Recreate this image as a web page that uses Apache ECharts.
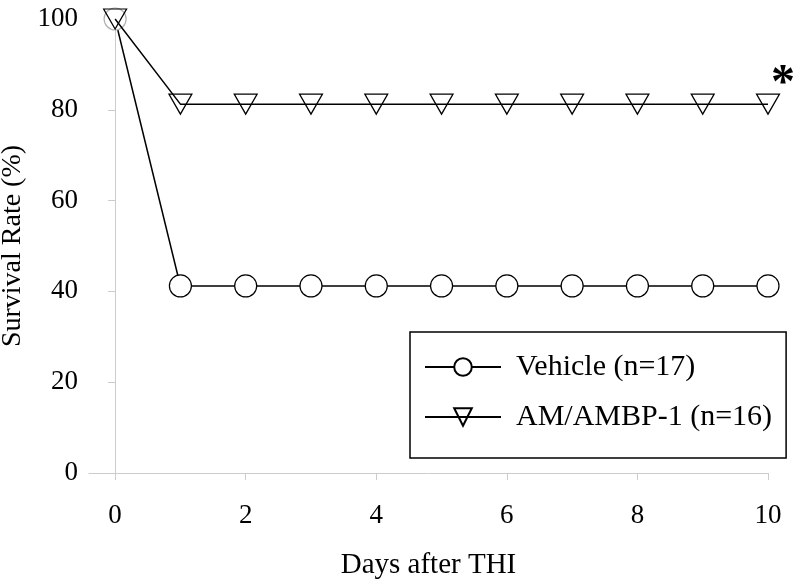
<!DOCTYPE html>
<html>
<head>
<meta charset="utf-8">
<script src="https://cdn.jsdelivr.net/npm/echarts@6/dist/echarts.min.js"></script>
<style>html,body{margin:0;padding:0;background:#fff}#c{width:800px;height:587px}</style>
</head>
<body>
<div id="c"></div>
<script>
const days = [0,1,2,3,4,5,6,7,8,9,10];
const vehicle = [100,41.2,41.2,41.2,41.2,41.2,41.2,41.2,41.2,41.2,41.2];
const amambp = [100,81.25,81.25,81.25,81.25,81.25,81.25,81.25,81.25,81.25,81.25];
const xTicks = [0,2,4,6,8,10];
const yTicks = [0,20,40,60,80,100];
const seriesNames = ['Vehicle (n=17)','AM/AMBP-1 (n=16)'];

const FONT = '"Liberation Serif","Times New Roman",serif';
const tri = 'path://M0,0 L22,0 L11,20 Z';
const chart = echarts.init(document.getElementById('c'), null, {renderer:'canvas'});
chart.setOption({
  animation:false,
  backgroundColor:'#fff',
  grid:{left:89,right:32,top:19,bottom:114,containLabel:false,outerBoundsMode:'none'},
  xAxis:{
    type:'value', min:-0.4, max:10,
    name:'Days after THI', nameLocation:'middle', nameGap:78,
    nameTextStyle:{fontFamily:FONT,fontSize:29,color:'#000'},
    axisLine:{show:true,lineStyle:{color:'#cccccc',width:1}},
    axisTick:{show:true,length:7,inside:false,lineStyle:{color:'#cccccc'},customValues:xTicks},
    axisLabel:{fontFamily:FONT,fontSize:27,color:'#000',margin:29,customValues:xTicks,
      formatter:v=>xTicks.includes(v)?String(v):''},
    splitLine:{show:false}
  },
  yAxis:{
    type:'value', min:0, max:100, interval:20,
    name:'Survival Rate (%)', nameLocation:'middle', nameGap:62,
    nameTextStyle:{fontFamily:FONT,fontSize:28,color:'#000'},
    axisLine:{show:true,lineStyle:{color:'#cccccc',width:1}},
    axisTick:{show:true,length:7,lineStyle:{color:'#cccccc'}},
    axisLabel:{fontFamily:FONT,fontSize:27,color:'#000',margin:11,padding:[6,0,0,0],
      formatter:v=>yTicks.includes(v)?String(v):''},
    splitLine:{show:false}
  },
  legend:{
    left:410, top:332,
    orient:'vertical',
    padding:[20,14,26,14],
    itemGap:20,
    itemWidth:76, itemHeight:22,
    borderColor:'#000', borderWidth:1.5, backgroundColor:'#fff',
    textStyle:{fontFamily:FONT,fontSize:30,color:'#000',padding:[0,0,0,10]},
    data:seriesNames
  },
  series:[
    {name:seriesNames[0], type:'line', z:2,
     data:days.map((d,i)=>i===0?{value:[d,vehicle[i]],itemStyle:{borderColor:'#b0b0b0'}}:[d,vehicle[i]]),
     symbol:'circle', symbolSize:22, clip:false,
     lineStyle:{color:'#000',width:1.5},
     itemStyle:{color:'#fff',borderColor:'#000',borderWidth:1.2}},
    {name:seriesNames[1], type:'line', z:3, data:days.map((d,i)=>[d,amambp[i]]),
     symbol:tri, symbolSize:[23,20], clip:false,
     lineStyle:{color:'#000',width:1.5},
     itemStyle:{color:'rgba(255,255,255,0)',borderColor:'#000',borderWidth:1.2}}
  ],
  graphic:[
    {type:'text', left:771, top:61, style:{text:'*', font:'bold 48px '+FONT, fill:'#000'}}
  ]
});
</script>
</body>
</html>
